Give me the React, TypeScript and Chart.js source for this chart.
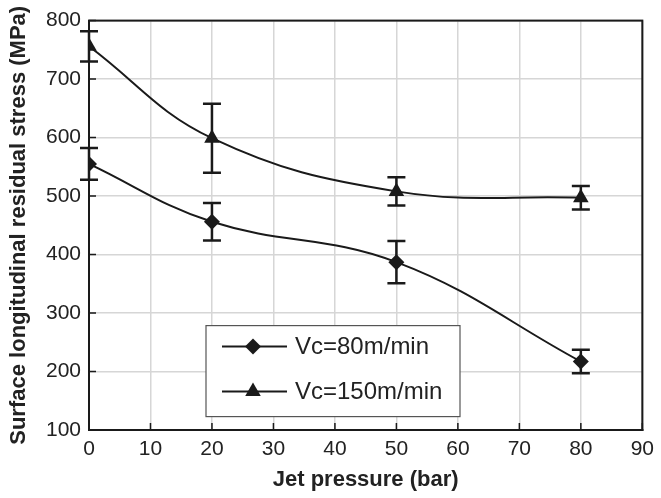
import React, { useEffect, useRef } from "react";
import { Chart, registerables } from "chart.js";

Chart.register(...registerables);

const pressures = [0, 20, 50, 80];
const vc80Values = [555, 456, 387, 217];
const vc80Errors = [27, 32, 36, 20];
const vc150Values = [756, 599, 508, 497];
const vc150Errors = [26, 59, 24, 20];
const seriesLabels = ["Vc=80m/min", "Vc=150m/min"];
const xTitle = "Jet pressure (bar)";
const yTitle = "Surface longitudinal residual stress (MPa)";

const INK = "#1a1a1a";
const FONT = "'Liberation Sans', Arial, Helvetica, sans-serif";

function drawMarker(ctx: CanvasRenderingContext2D, style: string, x: number, y: number, r: number) {
  ctx.beginPath();
  if (style === "rectRot") {
    ctx.moveTo(x, y - r);
    ctx.lineTo(x + r, y);
    ctx.lineTo(x, y + r);
    ctx.lineTo(x - r, y);
  } else {
    const h = r * 1.5;
    const w = r * Math.sqrt(3);
    ctx.moveTo(x, y - (h * 2) / 3);
    ctx.lineTo(x + w / 2, y + h / 3);
    ctx.lineTo(x - w / 2, y + h / 3);
  }
  ctx.closePath();
  ctx.fill();
}

const errorBarPlugin = {
  id: "errorBars",
  beforeDatasetsDraw(chart: any) {
    const ctx = chart.ctx;
    const xs = chart.scales.x;
    const ys = chart.scales.y;
    const sets = [
      { v: vc80Values, e: vc80Errors },
      { v: vc150Values, e: vc150Errors },
    ];
    ctx.save();
    ctx.strokeStyle = INK;
    ctx.lineWidth = 2.5;
    sets.forEach((s) => {
      pressures.forEach((p, i) => {
        const x = xs.getPixelForValue(p);
        const yt = ys.getPixelForValue(s.v[i] + s.e[i]);
        const yb = ys.getPixelForValue(s.v[i] - s.e[i]);
        ctx.beginPath();
        ctx.moveTo(x, yt);
        ctx.lineTo(x, yb);
        ctx.moveTo(x - 9, yt);
        ctx.lineTo(x + 9, yt);
        ctx.moveTo(x - 9, yb);
        ctx.lineTo(x + 9, yb);
        ctx.stroke();
      });
    });
    ctx.restore();
  },
};

const frameAndTicksPlugin = {
  id: "frameTicks",
  afterDraw(chart: any) {
    const ctx = chart.ctx;
    const { left, right, top, bottom } = chart.chartArea;
    const xs = chart.scales.x;
    const ys = chart.scales.y;
    ctx.save();
    ctx.strokeStyle = INK;
    ctx.lineWidth = 1.5;
    ctx.beginPath();
    xs.ticks.forEach((t: any) => {
      const x = xs.getPixelForValue(t.value);
      ctx.moveTo(x, bottom);
      ctx.lineTo(x, bottom - 7);
    });
    ys.ticks.forEach((t: any) => {
      const y = ys.getPixelForValue(t.value);
      ctx.moveTo(left, y);
      ctx.lineTo(left + 7, y);
    });
    ctx.stroke();
    ctx.lineWidth = 2;
    ctx.strokeRect(left, top, right - left, bottom - top);

    // legend box
    const bx = left + 117;
    const by = top + 305;
    const bw = 254;
    const bh = 91;
    ctx.fillStyle = "#ffffff";
    ctx.fillRect(bx, by, bw, bh);
    ctx.strokeStyle = "#555555";
    ctx.lineWidth = 1.2;
    ctx.strokeRect(bx, by, bw, bh);
    const rows = [
      { label: seriesLabels[0], style: "rectRot", r: 8, y: by + 21 },
      { label: seriesLabels[1], style: "triangle", r: 9, y: by + 66 },
    ];
    rows.forEach((row) => {
      ctx.strokeStyle = INK;
      ctx.lineWidth = 2;
      ctx.beginPath();
      ctx.moveTo(bx + 16, row.y);
      ctx.lineTo(bx + 81, row.y);
      ctx.stroke();
      ctx.fillStyle = INK;
      drawMarker(ctx, row.style, bx + 47, row.y, row.r);
      ctx.fillStyle = "#222222";
      ctx.font = `24px ${FONT}`;
      ctx.textBaseline = "middle";
      ctx.textAlign = "left";
      ctx.fillText(row.label, bx + 89, row.y + 1);
    });
    ctx.restore();
  },
};

export default function App() {
  const ref = useRef<HTMLCanvasElement | null>(null);
  useEffect(() => {
    if (!ref.current) return;
    const chart = new Chart(ref.current, {
      type: "line",
      data: {
        datasets: [
          {
            label: seriesLabels[0],
            data: pressures.map((p, i) => ({ x: p, y: vc80Values[i] })),
            borderColor: INK,
            backgroundColor: INK,
            borderWidth: 2,
            pointStyle: "rectRot",
            pointRadius: 8,
            pointBorderWidth: 0,
            tension: 0.4,
          },
          {
            label: seriesLabels[1],
            data: pressures.map((p, i) => ({ x: p, y: vc150Values[i] })),
            borderColor: INK,
            backgroundColor: INK,
            borderWidth: 2,
            pointStyle: "triangle",
            pointRadius: 9,
            pointBorderWidth: 0,
            tension: 0.4,
          },
        ],
      },
      options: {
        responsive: false,
        animation: false,
        layout: { padding: { top: 19, right: 13, left: 0, bottom: 0 } },
        plugins: {
          legend: { display: false },
          tooltip: { enabled: false },
        },
        scales: {
          x: {
            type: "linear",
            min: 0,
            max: 90,
            afterFit: (s: any) => {
              s.height = 68;
            },
            ticks: {
              stepSize: 10,
              padding: 7,
              color: "#222222",
              font: { family: FONT, size: 21 },
            },
            grid: { color: "#d6d6d6", lineWidth: 1.5, drawTicks: false },
            border: { display: true, color: INK, width: 2 },
            title: {
              display: true,
              text: xTitle,
              color: "#222222",
              font: { family: FONT, size: 22, weight: "bold" },
              padding: { top: 0, bottom: 5 },
            },
          },
          y: {
            type: "linear",
            min: 100,
            max: 800,
            afterFit: (s: any) => {
              s.width = 89;
            },
            ticks: {
              stepSize: 100,
              padding: 8,
              color: "#222222",
              font: { family: FONT, size: 21 },
            },
            grid: { color: "#d6d6d6", lineWidth: 1.5, drawTicks: false },
            border: { display: true, color: INK, width: 2 },
            title: {
              display: true,
              text: yTitle,
              color: "#222222",
              font: { family: FONT, size: 22, weight: "bold" },
              padding: { top: 6, bottom: 0 },
            },
          },
        },
      },
      plugins: [errorBarPlugin, frameAndTicksPlugin],
    } as any);
    return () => chart.destroy();
  }, []);
  return (
    <div style={{ position: "fixed", left: 0, top: 0, width: 661, height: 498, background: "#fff" }}>
      <canvas ref={ref} width={661} height={498} />
    </div>
  );
}
